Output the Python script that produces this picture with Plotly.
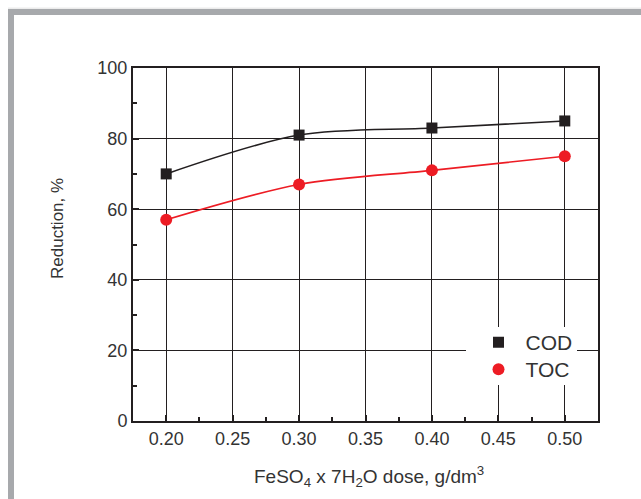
import plotly.graph_objects as go

dose = [0.20, 0.30, 0.40, 0.50]
cod = [70, 81, 83, 85]
toc = [57, 67, 71, 75]
x_ticks = [0.20, 0.25, 0.30, 0.35, 0.40, 0.45, 0.50]
x_tick_labels = ["0.20", "0.25", "0.30", "0.35", "0.40", "0.45", "0.50"]
y_ticks = [0, 20, 40, 60, 80, 100]

BLACK = "#231f20"
RED = "#ed1c24"
TXT = "#333333"
FONT = "Liberation Sans, Arial, sans-serif"

fig = go.Figure()
fig.add_trace(go.Scatter(x=dose, y=cod, mode="lines", line=dict(color=BLACK, width=1.6, shape="spline", smoothing=0.9), showlegend=False, hoverinfo="skip"))
fig.add_trace(go.Scatter(x=dose, y=toc, mode="lines", line=dict(color=RED, width=1.6, shape="spline", smoothing=0.9), showlegend=False, hoverinfo="skip"))
fig.add_trace(go.Scatter(x=dose, y=cod, mode="markers", name="COD", legend="legend", marker=dict(symbol="square", size=11, color=BLACK)))
fig.add_trace(go.Scatter(x=dose, y=toc, mode="markers", name="TOC", legend="legend2", marker=dict(symbol="circle", size=12, color=RED)))

L, R, T, B = 133, 43, 68, 78
W, H = 641, 499
pw, ph = W - L - R, H - T - B

def px(x):
    return (x - L) / pw

def py(y):
    return (H - B - y) / ph

axis_common = dict(
    showline=True, linecolor=BLACK, linewidth=2, mirror=True,
    showgrid=True, gridcolor=BLACK, gridwidth=1,
    ticks="inside", ticklen=6, tickcolor=BLACK, tickwidth=1.5,
    tickfont=dict(family=FONT, size=18, color=TXT),
    zeroline=False,
)

fig.update_xaxes(range=[0.175, 0.525], tickvals=x_ticks, ticktext=x_tick_labels,
                 minor=dict(dtick=0.025, tick0=0.2, ticks="inside", ticklen=4, tickcolor=BLACK, showgrid=False),
                 **axis_common)
fig.update_yaxes(range=[0, 100], tickvals=y_ticks,
                 minor=dict(dtick=10, ticks="inside", ticklen=4, tickcolor=BLACK, showgrid=False),
                 **axis_common)

shapes = [
    dict(type="rect", xref="paper", yref="paper", x0=px(8), x1=px(14), y0=py(499), y1=py(9), fillcolor="#a7a9ac", line=dict(width=0), layer="below"),
    dict(type="rect", xref="paper", yref="paper", x0=px(8), x1=px(641), y0=py(15), y1=py(9), fillcolor="#a7a9ac", line=dict(width=0), layer="below"),
    dict(type="rect", xref="paper", yref="paper", x0=px(8), x1=px(641), y0=py(9), y1=py(7.5), fillcolor="#ececec", line=dict(width=0), layer="below"),
    # white backing of the legend block
    dict(type="rect", xref="paper", yref="paper", x0=px(466), x1=px(577), y0=py(385), y1=py(327), fillcolor="white", line=dict(width=0), layer="above"),
]

legend_common = dict(xanchor="left", yanchor="top", bgcolor="rgba(0,0,0,0)", borderwidth=0,
                     font=dict(family=FONT, size=21, color=TXT), itemwidth=44)

fig.update_layout(
    width=W, height=H,
    margin=dict(l=L, r=R, t=T, b=B, autoexpand=False),
    paper_bgcolor="white", plot_bgcolor="white",
    font=dict(family=FONT, color=TXT),
    shapes=shapes,
    showlegend=True,
    legend=dict(x=px(471.5), y=py(322), **legend_common),
    legend2=dict(x=px(471.5), y=py(349), **legend_common),
    annotations=[
        dict(text="Reduction, %", xref="paper", yref="paper", x=px(58), y=py(229),
             xanchor="center", yanchor="middle", textangle=-90, showarrow=False,
             font=dict(family=FONT, size=17, color=TXT)),
        dict(text="FeSO<sub>4</sub> x 7H<sub>2</sub>O dose, g/dm<sup>3</sup>", xref="paper", yref="paper",
             x=px(369), y=py(476), xanchor="center", yanchor="middle", showarrow=False,
             font=dict(family=FONT, size=19, color=TXT)),
    ],
)

fig.write_html("out.html", config={"displayModeBar": False},
               post_script="document.body.style.margin='0';document.body.style.overflow='hidden';")
